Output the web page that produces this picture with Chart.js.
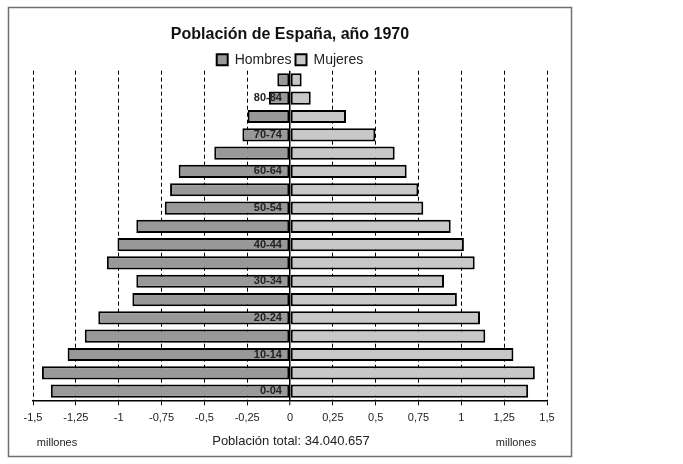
<!DOCTYPE html>
<html>
<head>
<meta charset="utf-8">
<script src="https://cdn.jsdelivr.net/npm/chart.js@4/dist/chart.umd.min.js"></script>
<style>
  html, body { margin: 0; padding: 0; background: #fff; }
  canvas { display: block; }
</style>
</head>
<body>
<canvas id="pyramid" width="683" height="464"></canvas>
<script>
// Age groups, youngest first (the y axis is reversed so 0-04 sits at the bottom)
const ageGroups = ['0-04', '05-09', '10-14', '15-19', '20-24', '25-29', '30-34', '35-39', '40-44',
    '45-49', '50-54', '55-59', '60-64', '65-69', '70-74', '75-79', '80-84', '85+'];

// Population in millions
const hombres = [1.396, 1.448, 1.298, 1.198, 1.119, 0.920, 0.897, 1.069, 1.007,
    0.897, 0.731, 0.700, 0.650, 0.442, 0.278, 0.247, 0.123, 0.074];
const mujeres = [1.390, 1.429, 1.304, 1.140, 1.109, 0.974, 0.899, 1.078, 1.015,
    0.938, 0.778, 0.749, 0.681, 0.611, 0.498, 0.327, 0.121, 0.068];

const xTicks = [-1.5, -1.25, -1, -0.75, -0.5, -0.25, 0, 0.25, 0.5, 0.75, 1, 1.25, 1.5];

const titleText = 'Población de España, año 1970';
const totalText = 'Población total: 34.040.657';
const unitText = 'millones';

const FONT = "'Liberation Sans', Arial, sans-serif";

// legend sits close to the plot, trim its height a bit
const legendTrim = {
    id: 'legendTrim',
    beforeInit(chart) {
        const fit = chart.legend.fit;
        chart.legend.fit = function() {
            fit.call(this);
            this.height -= 6;
        };
    }
};

// frame and footer texts
const footerPlugin = {
    id: 'footer',
    afterDraw(chart) {
        const ctx = chart.ctx;
        ctx.save();
        ctx.strokeStyle = '#707070';
        ctx.lineWidth = 1.5;
        ctx.strokeRect(8.5, 7.5, 563, 449);
        ctx.fillStyle = '#222';
        ctx.textAlign = 'center';
        ctx.textBaseline = 'middle';
        ctx.font = '11px ' + FONT;
        ctx.fillText(unitText, 57, 443);
        ctx.fillText(unitText, 516, 443);
        ctx.font = '13px ' + FONT;
        ctx.fillText(totalText, 291, 441);
        ctx.restore();
    }
};

const isZero = c => c.tick && c.tick.value === 0;

new Chart(document.getElementById('pyramid'), {
    type: 'bar',
    data: {
        labels: ageGroups,
        datasets: [{
            label: 'Hombres',
            data: hombres.map(v => -v),
            backgroundColor: '#999999',
            borderColor: '#000',
            borderWidth: 2,
            borderSkipped: false
        }, {
            label: 'Mujeres',
            data: mujeres,
            backgroundColor: '#c8c8c8',
            borderColor: '#000',
            borderWidth: 2,
            borderSkipped: false
        }]
    },
    options: {
        indexAxis: 'y',
        responsive: false,
        animation: false,
        devicePixelRatio: 1,
        categoryPercentage: 0.72,
        barPercentage: 1,
        layout: {
            padding: { left: 33, right: 136, top: 0, bottom: 33.5 }
        },
        plugins: {
            title: {
                display: true,
                text: titleText,
                color: '#111',
                font: { family: FONT, size: 16, weight: 'bold' },
                padding: { top: 25, bottom: 4.5 }
            },
            legend: {
                display: true,
                labels: {
                    color: '#222',
                    font: { family: FONT, size: 14 },
                    boxWidth: 11,
                    boxHeight: 11,
                    padding: 4
                }
            },
            tooltip: { enabled: false }
        },
        scales: {
            x: {
                stacked: true,
                min: -1.5,
                max: 1.5,
                afterBuildTicks(scale) {
                    scale.ticks = xTicks.map(v => ({ value: v }));
                },
                ticks: {
                    color: '#222',
                    font: { family: FONT, size: 11 },
                    padding: 6,
                    maxRotation: 0,
                    autoSkip: false,
                    callback: v => String(v).replace('.', ',')
                },
                grid: {
                    color: '#000',
                    lineWidth: c => isZero(c) ? 1.5 : 1,
                    tickLength: 5,
                    tickColor: '#000',
                    tickWidth: 1,
                    tickBorderDash: []
                },
                border: {
                    display: true,
                    color: '#000',
                    width: 1.5,
                    dash: c => isZero(c) ? [] : [4, 3]
                }
            },
            y: {
                stacked: true,
                reverse: true,
                // labels stand just left of the zero line
                position: { x: -0.047 },
                ticks: {
                    z: 1,
                    color: '#222',
                    font: { family: FONT, size: 11, weight: 'bold' },
                    autoSkip: false,
                    callback(value, index) {
                        return index % 2 === 0 ? this.getLabelForValue(value) : '';
                    }
                },
                grid: { display: false },
                border: { display: false }
            }
        }
    },
    plugins: [legendTrim, footerPlugin]
});
</script>
</body>
</html>
